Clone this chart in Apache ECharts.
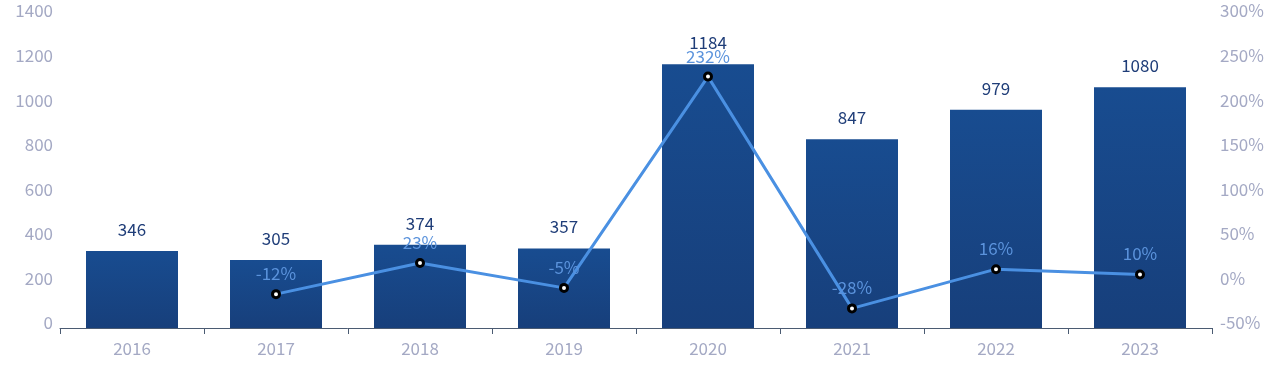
<!DOCTYPE html>
<html>
<head>
<meta charset="utf-8">
<script src="https://cdn.jsdelivr.net/npm/echarts@6/dist/echarts.min.js"></script>
<style>html,body{margin:0;padding:0;background:#fff}#c{width:1280px;height:382px}</style>
</head>
<body>
<div id="c"></div>
<script>
const categories = ['2016','2017','2018','2019','2020','2021','2022','2023'];
const barValues = [346, 305, 374, 357, 1184, 847, 979, 1080];
const growthValues = [null, -12, 23, -5, 232, -28, 16, 10];

const FONT = 'Noto Sans CJK SC';
const chart = echarts.init(document.getElementById('c'));
chart.setOption({
  animation: false,
  textStyle: { fontFamily: FONT },
  grid: { left: 60, right: 68, top: 16, bottom: 54 },
  xAxis: {
    type: 'category',
    data: categories,
    axisLine: { lineStyle: { color: '#4b5b72', width: 1 } },
    axisTick: { show: true, length: 6, lineStyle: { color: '#4b5b72' } },
    axisLabel: { color: '#a4a9c4', fontSize: 17, margin: 12, fontFamily: FONT }
  },
  yAxis: [{
    type: 'value', min: 0, max: 1400, interval: 200,
    splitLine: { show: false },
    axisLine: { show: false }, axisTick: { show: false },
    axisLabel: { color: '#a4a9c4', fontSize: 17, margin: 7, verticalAlign: 'bottom', lineHeight: 10,
      formatter: v => String(v), fontFamily: FONT }
  }, {
    type: 'value', min: -50, max: 300, interval: 50,
    splitLine: { show: false },
    axisLine: { show: false }, axisTick: { show: false },
    axisLabel: { color: '#a4a9c4', fontSize: 17, margin: 8, verticalAlign: 'bottom', lineHeight: 10,
      formatter: v => v + '%', fontFamily: FONT }
  }],
  series: [{
    type: 'bar',
    data: barValues,
    barWidth: 92,
    itemStyle: {
      color: new echarts.graphic.LinearGradient(0, 0, 0, 1, [
        { offset: 0, color: '#184c90' },
        { offset: 1, color: '#173f7b' }
      ])
    },
    label: { show: true, position: 'top', distance: 13, color: '#1f3d78', fontSize: 17, fontFamily: FONT },
    labelLayout: { moveOverlap: 'shiftY' },
    z: 2
  }, {
    type: 'line',
    yAxisIndex: 1,
    data: growthValues,
    connectNulls: false,
    symbol: 'circle', symbolSize: 7,
    lineStyle: { color: '#4a90e2', width: 3 },
    itemStyle: { color: '#ffffff', borderColor: '#000000', borderWidth: 3 },
    label: { show: true, position: 'top', distance: 7, color: '#5b93dc', fontSize: 17, formatter: '{c}%', fontFamily: FONT },
    z: 3
  }]
});
</script>
</body>
</html>
